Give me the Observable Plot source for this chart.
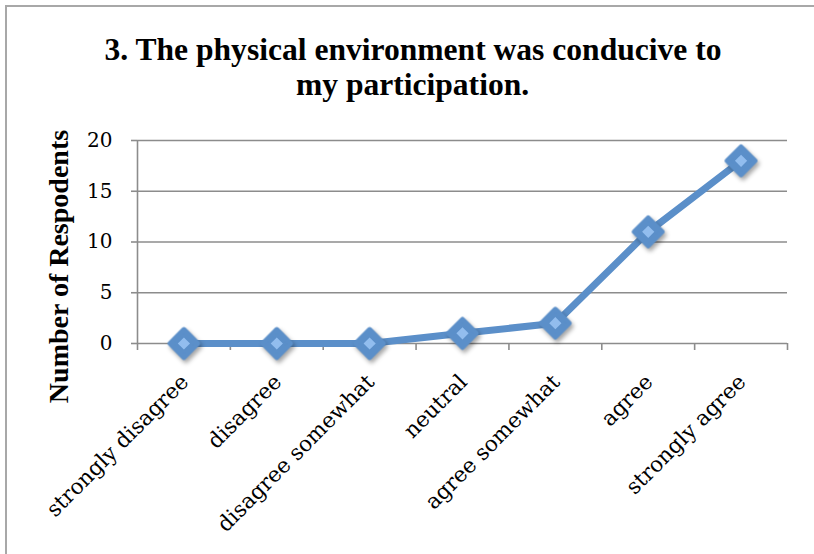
<!DOCTYPE html>
<html>
<head>
<meta charset="utf-8">
<script src="https://cdn.jsdelivr.net/npm/d3@7"></script>
<script src="https://cdn.jsdelivr.net/npm/@observablehq/plot@0.6"></script>
<style>
  html, body { margin: 0; padding: 0; background: #fff; }
  #wrap { position: relative; width: 814px; height: 554px; overflow: hidden; }
  #frame { position: absolute; left: 5px; top: 5px; width: 900px; height: 700px;
           border-left: 2px solid #a8a8a8; border-top: 2px solid #a8a8a8; }
  #title { position: absolute; left: 0; top: 32px; width: 826px; text-align: center;
           font-family: "Liberation Serif", serif; font-weight: bold; font-size: 31px;
           line-height: 35px; color: #000; }
  #title span { display: inline-block; white-space: nowrap; transform-origin: center; }
  #chart { position: absolute; left: 0; top: 120px; }
</style>
</head>
<body>
<div id="wrap">
  <div id="frame"></div>
  <div id="title"><div><span id="t1"></span></div><div><span id="t2"></span></div></div>
  <div id="chart"></div>
</div>
<script>
const titleLines = ["3. The physical environment was conducive to", "my participation."];
const yLabel = "Number of Respodents";
const categories = ["strongly disagree", "disagree", "disagree somewhat", "neutral", "agree somewhat", "agree", "strongly agree"];
const values = [0, 0, 0, 1, 2, 11, 18];
const yTicks = [0, 5, 10, 15, 20];

const table = categories.map((c, i) => ({category: c, pos: i + 0.5, value: values[i]}));
const boundaries = d3.range(categories.length + 1);

// Title
document.getElementById("t1").textContent = titleLines[0];
document.getElementById("t2").textContent = titleLines[1];
const t1 = document.getElementById("t1"), t2 = document.getElementById("t2");
const k = 617 / t1.getBoundingClientRect().width;
t1.style.transform = `scaleX(${k})`;
t2.style.transform = `scaleX(${k})`;

const gray = "#8c8c8c";
const blue = "#5b8fc9";
const serif = "Liberation Serif, serif";
const wide = "DejaVu Serif, serif";

const chart = Plot.plot({
  width: 814,
  height: 434,
  marginLeft: 137,
  marginRight: 27,
  marginTop: 20,
  marginBottom: 211,
  style: {fontFamily: serif, background: "transparent", overflow: "visible"},
  x: {domain: [0, categories.length], axis: null},
  y: {domain: [0, 20], axis: null},
  marks: [
    Plot.gridY(yTicks.slice(1), {stroke: gray, strokeOpacity: 1, strokeWidth: 1.4}),
    Plot.ruleY([0], {stroke: gray, strokeWidth: 1.6}),
    Plot.ruleX([0], {stroke: gray, strokeWidth: 1.6}),
    Plot.axisY(yTicks, {tickSize: 6, tickPadding: 19, stroke: gray, strokeWidth: 1.6, fill: "#000", fontSize: 20, fontFamily: wide, label: null}),
    Plot.axisX(boundaries, {tickSize: 7, stroke: gray, strokeWidth: 1.6, tickFormat: () => "", label: null}),
    Plot.text([yLabel], {frameAnchor: "left", rotate: -90, dx: -78, dy: 24.5, textAnchor: "middle", lineAnchor: "middle",
      fontSize: 28, fontWeight: "bold", fill: "#000"}),
    Plot.text(table, {x: "pos", frameAnchor: "bottom", text: "category", rotate: -45, textAnchor: "end", lineAnchor: "middle",
      dx: 1, dy: 35, fontSize: 21.5, fontFamily: wide, fill: "#000"}),
    Plot.line(table, {x: "pos", y: "value", stroke: blue, strokeWidth: 7, strokeLinejoin: "round"}),
    Plot.dot(table, {x: "pos", y: "value", symbol: "diamond2", r: 12.5, fill: blue, stroke: blue, strokeWidth: 5, strokeLinejoin: "round"}),
    Plot.dot(table, {x: "pos", y: "value", symbol: "diamond2", r: 5.5, fill: "#92bdee", stroke: null})
  ]
});
document.getElementById("chart").appendChild(chart);
const dotGroups = chart.querySelectorAll('g[aria-label="dot"]');
if (dotGroups.length) dotGroups[0].style.filter = "drop-shadow(2px 3px 2px rgba(0,0,0,0.35))";
</script>
</body>
</html>
